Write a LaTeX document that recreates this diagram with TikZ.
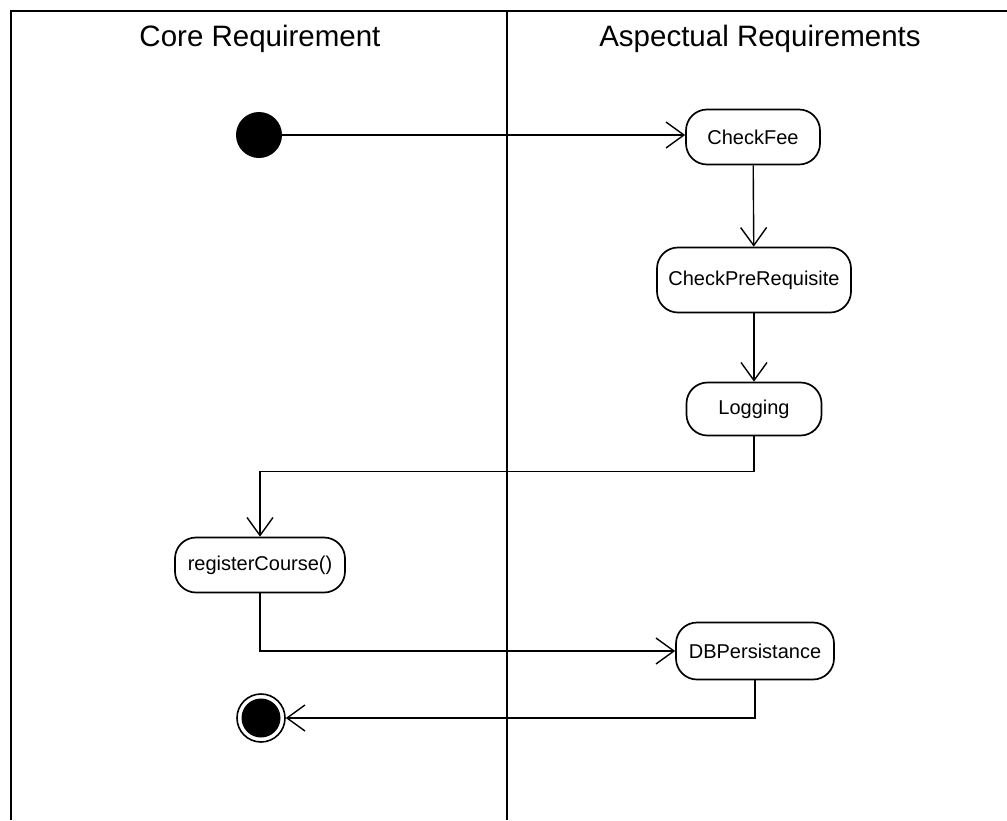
\documentclass[tikz,border=0pt]{standalone}
\usepackage{fontspec}
\setmainfont{Liberation Sans}
\usetikzlibrary{arrows.meta}
\begin{document}
\begin{tikzpicture}[x=1pt,y=-1pt,
  lane/.style={line width=1.8pt},
  action/.style={draw, line width=1.7pt, rounded corners=21pt, inner sep=0pt,
    font=\fontsize{20}{24}\selectfont},
  flow/.style={line width=1.4pt, -{Straight Barb[length=18pt,width=26pt,line width=1.4pt]}},
  header/.style={font=\fontsize{29.5}{34}\selectfont}]
\useasboundingbox (0,0) rectangle (1007,820);
\fill[white] (0,0) rectangle (1007,820);
% swimlane frame
\draw[lane] (11,820) -- (11,11) -- (1007,11);
\draw[lane] (507,11) -- (507,820);
\node[header] (hcore) at (260,39) {Core Requirement};
\node[header] (hasp) at (760,39) {Aspectual Requirements};
% initial and final states
\node[circle, fill=black, minimum size=46pt, inner sep=0pt] (start) at (259,135) {};
\node[circle, draw, line width=1.6pt, minimum size=48pt, inner sep=0pt] (stop) at (261,718) {};
\fill (stop.center) circle (19.5pt);
% actions
\node[action, minimum width=134pt, minimum height=55pt] (fee) at (753,137) {CheckFee};
\node[action, minimum width=194pt, minimum height=65pt] (pre) at (754,280) {CheckPreRequisite};
\node[action, minimum width=135pt, minimum height=53pt] (log) at (754,409) {Logging};
\node[action, minimum width=170pt, minimum height=55pt] (reg) at (260,565) {registerCourse()};
\node[action, minimum width=158pt, minimum height=57pt] (db) at (755,651) {DBPersistance};
% transitions
\draw[flow] (start) -- (fee.west |- start);
\draw[flow] (fee) -- (pre);
\draw[flow] (pre) -- (log);
\draw[flow] (log.south) -- ++(0,35) -| (reg.north);
\draw[flow] (reg.south) |- (db.west);
\draw[flow] (db.south) |- (stop.east);
\end{tikzpicture}
\end{document}
